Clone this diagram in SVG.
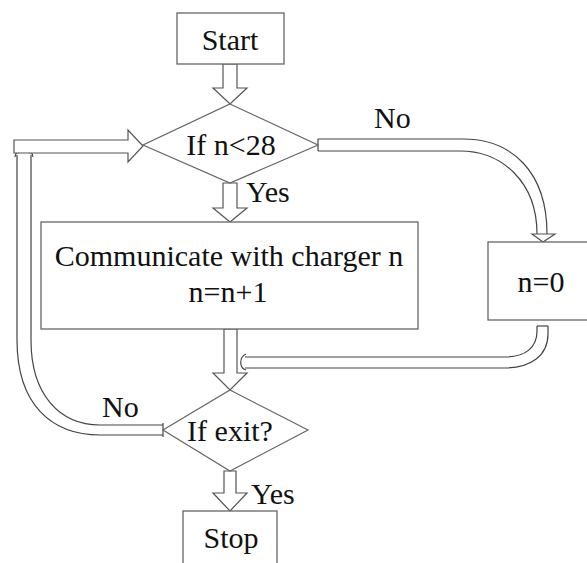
<svg xmlns="http://www.w3.org/2000/svg" width="587" height="563" viewBox="0 0 587 563">
<style>
.box{fill:#fff;stroke:#666;stroke-width:1.3}
.dia{fill:#fff;stroke:#666;stroke-width:1.2}
.arr{fill:#fff;stroke:#555;stroke-width:1.2;stroke-linejoin:miter}
.ln{fill:none;stroke:#444;stroke-width:1.2}
.t{font-family:'Liberation Serif','Times New Roman',serif;font-size:30px;fill:#111;text-anchor:middle}
.lbl{text-anchor:start}
</style>
<rect width="587" height="563" fill="#fff"/>
<g id="connectors">
<polygon class="arr" points="223,64 223,88 213,88 230,104 247,88 237,88 237,64"/>
<polygon class="arr" points="223,183 223,208 213,208 230,222 247,208 237,208 237,183"/>
<text class="t lbl" x="246" y="202">Yes</text>
<path class="ln" d="M318,139 H463 C512,139 547,172 547,234"/>
<path class="ln" d="M318,151 H460 C502,151 537,182 537,234"/>
<path class="ln" d="M318,139 V151"/>
<polygon class="arr" points="537,234 532,234 543,242 555,234 547,234"/>
<text class="t lbl" x="374" y="128">No</text>
<path class="ln" d="M548,326 V334 C548,356 530,368 505,368 H245"/>
<path class="ln" d="M537,326 V331 C537,348 525,357 505,357 H245"/>
<path class="ln" d="M537,326 H548"/>
<path class="ln" d="M246,354 C239,357 239,368 246,370"/>
<polygon class="arr" points="224,329 224,373 213,373 230,390 247,373 237,373 237,329"/>
<polygon class="arr" points="224,471 224,493 213,493 230,511 247,493 236,493 236,471"/>
<text class="t lbl" x="251" y="504">Yes</text>
<path class="ln" d="M163,435 H100 C52,435 17,405 17,340 V155"/>
<path class="ln" d="M163,425 H100 C60,425 31,395 31,340 V155"/>
<path class="ln" d="M163,423 V437"/>
<path class="ln" d="M15,157 Q16,151 19,153"/>
<path class="ln" d="M29,153 Q32,151 33,157"/>
<polygon class="arr" points="14,140 128,140 128,130 143,146 128,162 128,153 14,153"/>
<text class="t lbl" x="102" y="417">No</text>
</g>
<g id="start">
<rect class="box" x="177" y="13" width="107" height="51"/>
<text class="t" x="230" y="50">Start</text>
</g>
<g id="cond1">
<polygon class="dia" points="230,104 318,145 230,183 143,145"/>
<text class="t" x="231" y="155">If n&lt;28</text>
</g>
<g id="communicate">
<rect class="box" x="41" y="222" width="377" height="107"/>
<text class="t" x="229" y="266">Communicate with charger n</text>
<text class="t" x="228" y="302">n=n+1</text>
</g>
<g id="reset">
<rect class="box" x="488" y="242" width="102" height="78"/>
<text class="t" x="541" y="292">n=0</text>
</g>
<g id="cond2">
<polygon class="dia" points="230,390 308,430 230,471 163,430"/>
<text class="t" x="230" y="441">If exit?</text>
</g>
<g id="stop">
<rect class="box" x="183" y="511" width="94" height="60"/>
<text class="t" x="231" y="548">Stop</text>
</g>
</svg>
